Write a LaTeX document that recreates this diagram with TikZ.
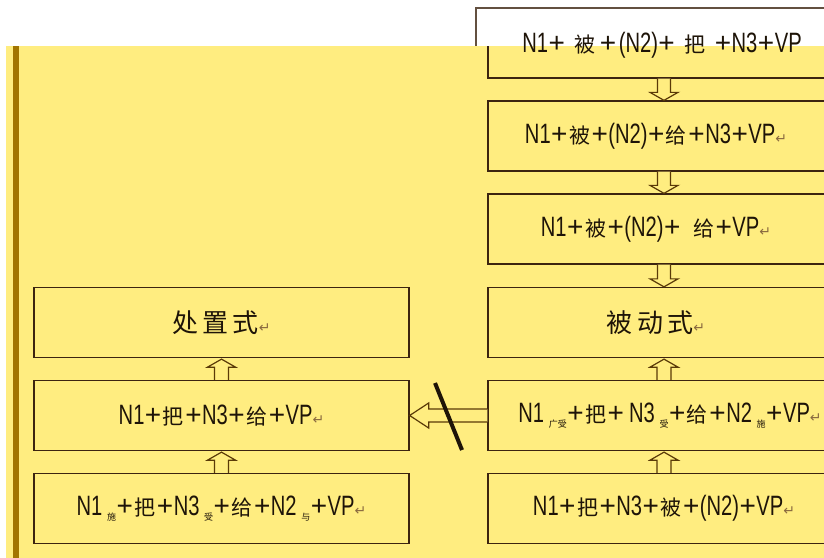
\documentclass[tikz,border=0pt]{standalone}
\usepackage{fontspec}
\usetikzlibrary{calc}
\newfontfamily\lt{Liberation Sans}[FakeStretch=0.72]
\newfontfamily\ltw{Liberation Sans}
\newfontfamily\zh{Noto Sans CJK SC}
\newfontfamily\djv{DejaVu Sans}
\definecolor{paper}{HTML}{FFED80}
\definecolor{edge}{HTML}{3C2410}
\definecolor{bar}{HTML}{A27500}
\definecolor{ink}{HTML}{1E1408}
\definecolor{retc}{HTML}{8A6A40}
\definecolor{arr}{HTML}{5A3A08}
% text helpers: Chinese glyphs, small subscripts, wide plus sign, return mark
\newcommand\Z[1]{\hspace{1pt}{\zh\fontsize{21}{24}\selectfont#1}\hspace{1pt}}
\newcommand\ZL[1]{{\zh\fontsize{26}{30}\selectfont#1}}
\newcommand\Zs[1]{\raisebox{-5pt}{\zh\fontsize{9}{10}\selectfont#1}}
\newcommand\Pl{\hspace{0.5pt}{\ltw +}\hspace{0.5pt}}
\newcommand\RET{{\djv\fontsize{14}{16}\selectfont\color{retc}↵}}
\tikzset{
  box/.style={draw=edge, line width=1.3pt, fill=paper, rectangle, inner sep=0pt,
    minimum height=70pt, text=ink, font=\lt\fontsize{28}{30}\selectfont},
  rbox/.style={box, minimum width=352pt},
  lbox/.style={box, minimum width=375pt},
  blk/.style={draw=arr, line width=1.2pt, fill=paper, line join=miter},
}
% block arrow pointing down from the bottom of #1 to the top of #2
\newcommand\downblk[2]{%
  \draw[blk] ($(#1.south)+(-6.5,0)$) -- ($(#2.north)+(-6.5,-8)$) -- ($(#2.north)+(-14,-8)$)
    -- (#2.north) -- ($(#2.north)+(14,-8)$) -- ($(#2.north)+(6.5,-8)$) -- ($(#1.south)+(6.5,0)$);}
% block arrow pointing up from the top of #1 to the bottom of #2
\newcommand\upblk[2]{%
  \draw[blk] ($(#1.north)+(-7,0)$) -- ($(#2.south)+(-7,9)$) -- ($(#2.south)+(-14,9)$)
    -- ($(#2.south)+(0,1)$) -- ($(#2.south)+(14,9)$) -- ($(#2.south)+(7,9)$) -- ($(#1.north)+(7,0)$);}
\begin{document}
\begin{tikzpicture}[x=1pt,y=-1pt]
\useasboundingbox (0,0) rectangle (824,557);
\fill[white] (0,0) rectangle (824,557);
% frame remnant in the blank strip at the top
\draw[edge!80, line width=1.2pt] (476,46) -- (476,8) -- (830,8);
% yellow sheet and its left rule
\fill[paper] (6,46) rectangle (830,560);
\fill[bar] (13,46) rectangle (19,560);

% right column
\begin{scope}
  \clip (6,46) rectangle (830,560);
  \node[rbox] (b1) at (664,43) {};
\end{scope}
\node[text=ink, font=\lt\fontsize{28}{30}\selectfont] (t1) at (662,45)
  {N1\Pl\hspace{8pt}\Z{被}\hspace{3pt}\Pl\hspace{2pt}(N2)\Pl\hspace{8pt}\Z{把}\hspace{8pt}\Pl N3\Pl VP};
\node[rbox] (b2) at (664,136) {\hspace*{-16pt}N1\Pl\Z{被}\Pl(N2)\Pl\Z{给}\Pl N3\Pl VP\RET};
\node[rbox] (b3) at (664,229) {\hspace*{-16pt}N1\Pl\Z{被}\Pl(N2)\Pl\ \ \Z{给}\Pl VP\RET};
\node[rbox] (b4) at (664,322.5) {\hspace*{-16pt}\ZL{被\,动\,式}\RET};
\node[rbox] (b5) at (664,415.5) {\hspace*{12pt}N1\,\Zs{广受}\Pl\Z{把}\Pl\,N3\,\Zs{受}\Pl\Z{给}\Pl N2\,\Zs{施}\Pl VP\RET};
\node[rbox] (b6) at (664,508.5) {N1\Pl\Z{把}\Pl N3\Pl\Z{被}\Pl(N2)\Pl VP\RET};

% left column
\node[lbox] (l1) at (221.5,322.5) {\ZL{处\,置\,式}\RET};
\node[lbox] (l2) at (221.5,415.5) {N1\Pl\Z{把}\Pl N3\Pl\Z{给}\Pl VP\RET};
\node[lbox] (l3) at (221.5,508.5) {N1\,\Zs{施}\Pl\Z{把}\Pl N3\,\Zs{受}\Pl\Z{给}\Pl N2\,\Zs{与}\Pl VP\RET};

% derivation arrows
\downblk{b1}{b2}
\downblk{b2}{b3}
\downblk{b3}{b4}
\upblk{b6}{b5}
\upblk{b5}{b4}
\draw[blk] ($(b5.west)+(0,-6.5)$) -- ($(l2.east)+(19,-6.5)$) -- ($(l2.east)+(19,-12.5)$)
  -- (l2.east) -- ($(l2.east)+(19,12.5)$) -- ($(l2.east)+(19,6.5)$) -- ($(b5.west)+(0,6.5)$);
\upblk{l3}{l2}
\upblk{l2}{l1}
% crossing-out stroke on the blocked derivation
\coordinate (s1) at (435,383);
\coordinate (s2) at (462,450);
\draw[ink, line width=4pt] (s1) -- (s2);
\end{tikzpicture}
\end{document}
